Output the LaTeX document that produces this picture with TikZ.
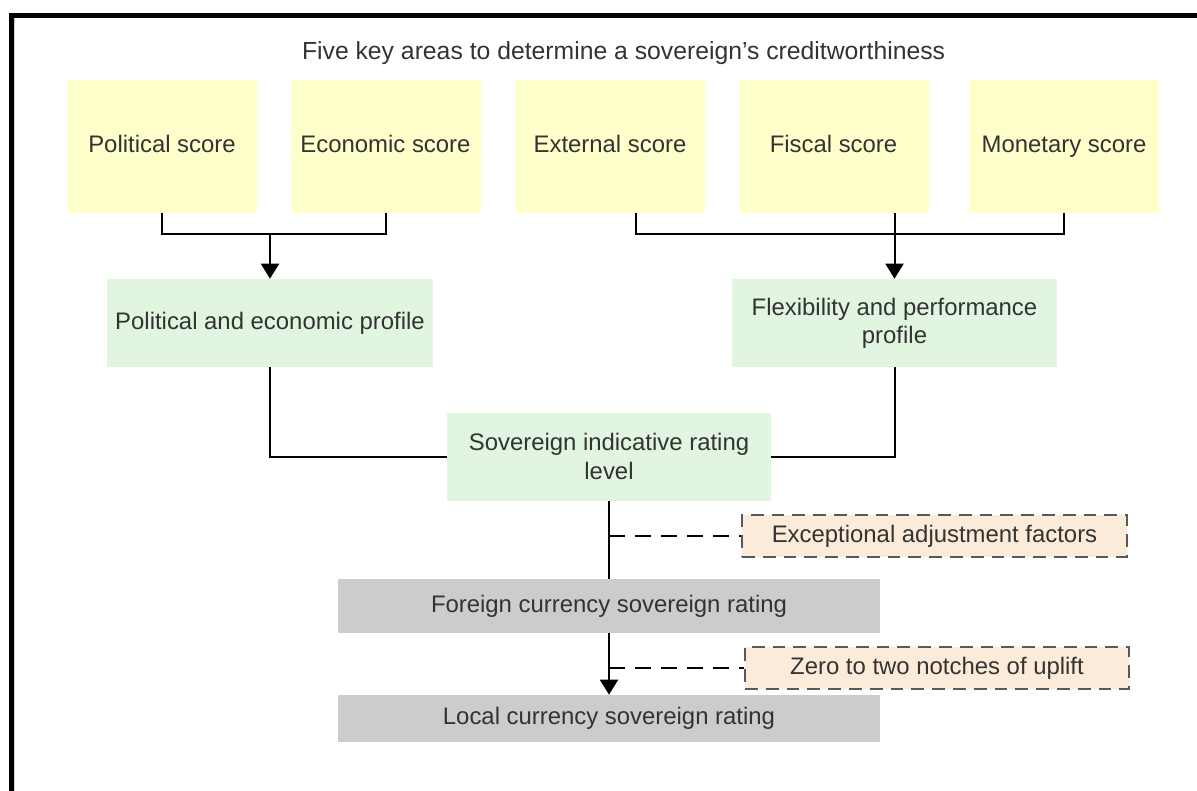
\documentclass[tikz,border=0pt]{standalone}
\usepackage{fontspec}
\setmainfont{Liberation Sans}
\usetikzlibrary{arrows.meta}

\definecolor{scoreyellow}{HTML}{FFFFCC}
\definecolor{profilegreen}{HTML}{E1F5E1}
\definecolor{ratinggray}{HTML}{CCCCCC}
\definecolor{adjustpeach}{HTML}{FDEBDA}
\definecolor{labelgray}{HTML}{333333}
\definecolor{edgeblue}{HTML}{C8D6E4}

\tikzset{
    >={Triangle[width=0.45cm,length=0.375cm]},
    box/.style={rectangle, inner sep=0pt, align=center, text=labelgray,
        font=\fontsize{17}{20}\selectfont},
    score/.style={box, fill=scoreyellow, minimum width=4.75cm, minimum height=3.325cm,
        text height=0.9em, text depth=0em},
    profile/.style={box, fill=profilegreen},
    rating/.style={box, fill=ratinggray, minimum width=13.55cm},
    adjust/.style={box, fill=adjustpeach, draw=black!65, line width=0.06cm,
        dash pattern=on 0.32cm off 0.2cm},
    link/.style={line width=0.05cm, black}
}

\begin{document}
\begin{tikzpicture}
    \useasboundingbox (0,0) rectangle (29.925,-19.775);
    \draw[line width=0.125cm, line join=miter] (0.2875,-19.775) -- (0.2875,-0.3875) -- (29.925,-0.3875);
    \draw[edgeblue, line width=0.03cm] (0.3675,-0.45) -- (0.3675,-19.775);

    \node[box, font=\fontsize{17.6}{20}\selectfont] (title) at (15.59, -1.33) {Five key areas to determine a sovereign’s creditworthiness};

    \node[score] (pol) at (4.05, -3.6625) {Political score};
    \node[score] (eco) at (9.6375, -3.6625) {Economic score};
    \node[score] (ext) at (15.25, -3.6625) {External score};
    \node[score] (fis) at (20.8375, -3.6625) {Fiscal score};
    \node[score] (mon) at (26.6, -3.6625) {Monetary score};

    \node[profile, minimum width=8.15cm, minimum height=2.2cm] (pe) at (6.75, -8.075) {Political and economic profile};
    \node[profile, minimum width=8.125cm, minimum height=2.2cm] (fp) at (22.3625, -8.075) {Flexibility and performance\\profile};
    \node[profile, minimum width=8.1cm, minimum height=2.2cm] (sirl) at (15.225, -11.4125) {Sovereign indicative rating\\level};

    \node[adjust, minimum width=9.625cm, minimum height=1.05cm] (exc) at (23.3625, -13.4) {Exceptional adjustment factors};
    \node[rating, minimum height=1.35cm] (fc) at (15.225, -15.15) {Foreign currency sovereign rating};
    \node[adjust, minimum width=9.6cm, minimum height=1.05cm] (zero) at (23.425, -16.7) {Zero to two notches of uplift};
    \node[rating, minimum height=1.175cm] (lc) at (15.225, -17.9625) {Local currency sovereign rating};

    % scores into profiles
    \coordinate (lj) at (6.75, -5.85);
    \draw[link] (pol.south) -- ++(0,-0.525) -| (eco.south);
    \draw[link, ->] (lj) -- (pe.north);
    \draw[link] ([xshift=0.65cm]ext.south) -- ++(0,-0.525) -| (mon.south);
    \draw[link, ->] (fis.south -| fp.north) -- (fp.north);

    % profiles into indicative level
    \draw[link] (pe.south) |- (sirl.west);
    \draw[link] (fp.south) |- (sirl.east);

    % down to the final ratings
    \draw[link] (sirl.south) -- (fc.north);
    \draw[link, dashed, dash pattern=on 0.4cm off 0.25cm] (exc.west -| fc.north) -- (exc.west);
    \draw[link, ->] (fc.south) -- (lc.north);
    \draw[link, dashed, dash pattern=on 0.4cm off 0.25cm] (zero.west -| fc.south) -- (zero.west);
\end{tikzpicture}
\end{document}
